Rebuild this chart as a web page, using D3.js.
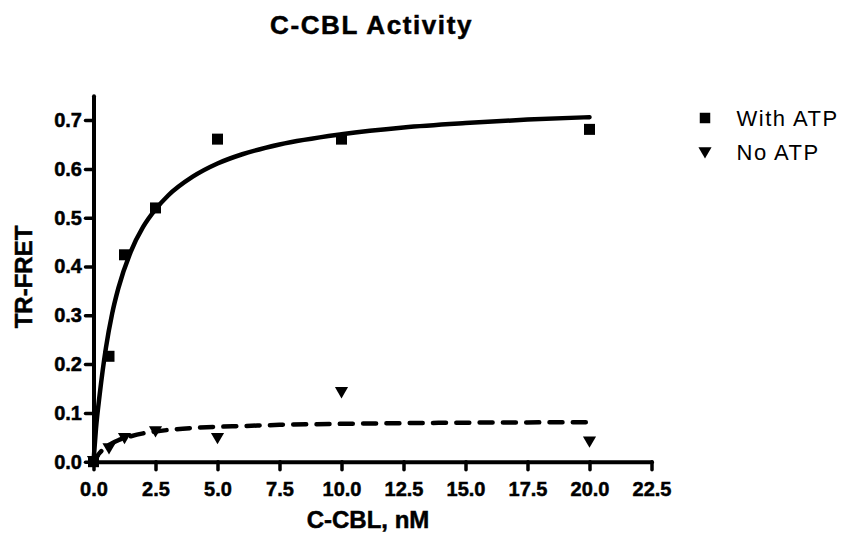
<!DOCTYPE html>
<html>
<head>
<meta charset="utf-8">
<script src="https://cdn.jsdelivr.net/npm/d3@7"></script>
<style>
  html, body { margin: 0; padding: 0; background: #fff; }
  svg { display: block; }
  text { font-family: "Liberation Sans", Arial, sans-serif; fill: #000; }
</style>
</head>
<body>
<svg id="chart" width="844" height="536"></svg>
<script>
// ---- data ----
const concentrations = [0, 0.625, 1.25, 2.5, 5, 10, 20];
const withATP = [0, 0.216, 0.424, 0.52, 0.661, 0.661, 0.681];
const noATP   = [0, 0.026, 0.047, 0.061, 0.047, 0.141, 0.040];

// fitted curves
const curveX        = [0, 0.1, 0.25, 0.5, 0.75, 1, 1.5, 2, 2.5, 3, 4, 5, 6, 7.5, 10, 12.5, 15, 17.5, 20];
const withATPCurve  = [0, 0.068, 0.138, 0.233, 0.303, 0.355, 0.430, 0.481, 0.517, 0.545, 0.584, 0.611, 0.630, 0.650, 0.671, 0.685, 0.694, 0.701, 0.706];
const noATPCurve    = [0, 0.008, 0.018, 0.030, 0.038, 0.044, 0.052, 0.058, 0.062, 0.065, 0.069, 0.0715, 0.073, 0.0755, 0.0776, 0.079, 0.080, 0.0805, 0.081];

const xTicks = [0, 2.5, 5, 7.5, 10, 12.5, 15, 17.5, 20, 22.5];
const yTicks = [0, 0.1, 0.2, 0.3, 0.4, 0.5, 0.6, 0.7];
const seriesNames = ["With ATP", "No ATP"];
const titleText = "C-CBL Activity";
const xTitle = "C-CBL, nM";
const yTitle = "TR-FRET";

// ---- layout ----
const svg = d3.select("#chart");
const x = d3.scaleLinear().domain([0, 22.5]).range([93.5, 651.5]);
const y = d3.scaleLinear().domain([0, 0.75]).range([461.7, 95.7]);

function heavy(sel) {
  return sel.style("font-weight", "bold").attr("stroke", "#000").attr("stroke-width", 0.5);
}

// title
heavy(svg.append("text")
  .attr("x", 371.5).attr("y", 34)
  .attr("text-anchor", "middle")
  .style("font-size", "26px")
  .style("letter-spacing", "1.6px")
  .text(titleText));

// axes
const xAxis = d3.axisBottom(x).tickValues(xTicks).tickFormat(d3.format(".1f"))
  .tickSize(8).tickSizeOuter(0).tickPadding(12);
const yAxis = d3.axisLeft(y).tickValues(yTicks).tickFormat(d3.format(".1f"))
  .tickSize(8).tickSizeOuter(0).tickPadding(3.5);

const gx = svg.append("g").attr("transform", `translate(0,${y(0)})`).call(xAxis);
const gy = svg.append("g").attr("transform", `translate(${x(0)},0)`).call(yAxis);

[gx, gy].forEach(g => {
  g.select(".domain").attr("stroke", "#000").attr("stroke-width", 4).attr("stroke-linecap", "round");
  g.selectAll(".tick line").attr("stroke", "#000").attr("stroke-width", 3.5).attr("stroke-linecap", "round");
  const t = g.selectAll(".tick text")
    .style("font-family", '"Liberation Sans", Arial, sans-serif')
    .style("font-size", "20px").attr("fill", "#000");
  heavy(t);
});

// axis titles
heavy(svg.append("text")
  .attr("x", 368).attr("y", 528)
  .attr("text-anchor", "middle")
  .style("font-size", "24px")
  .text(xTitle));

heavy(svg.append("text")
  .attr("transform", "translate(31.5,277) rotate(-90)")
  .attr("text-anchor", "middle")
  .style("font-size", "24px")
  .text(yTitle));

// curves
const lineGen = d3.line().x(d => x(d[0])).y(d => y(d[1])).curve(d3.curveMonotoneX);
svg.append("path")
  .datum(curveX.map((v, i) => [v, withATPCurve[i]]))
  .attr("d", lineGen)
  .attr("fill", "none").attr("stroke", "#000").attr("stroke-width", 4.5)
  .attr("stroke-linecap", "round");

svg.append("path")
  .datum(curveX.map((v, i) => [v, noATPCurve[i]]))
  .attr("d", lineGen)
  .attr("fill", "none").attr("stroke", "#000").attr("stroke-width", 4.5)
  .attr("stroke-dasharray", "13 10.3").attr("stroke-linecap", "round");

// markers
const sq = d3.symbol().type(d3.symbolSquare).size(121);
const tri = d3.symbol().type(d3.symbolTriangle).size(75);

svg.append("g").selectAll("path")
  .data(concentrations.map((c, i) => [c, withATP[i]]))
  .join("path")
  .attr("d", sq)
  .attr("transform", d => `translate(${x(d[0])},${y(d[1])})`)
  .attr("fill", "#000");

svg.append("g").selectAll("path")
  .data(concentrations.map((c, i) => [c, noATP[i]]))
  .join("path")
  .attr("d", tri)
  .attr("transform", d => `translate(${x(d[0])},${y(d[1]) - 2}) rotate(180)`)
  .attr("fill", "#000");

// legend
const legend = svg.append("g");
const legendY = [118, 152];
legend.append("path").attr("d", d3.symbol().type(d3.symbolSquare).size(110))
  .attr("transform", `translate(705,${legendY[0]})`).attr("fill", "#000");
legend.append("path").attr("d", tri)
  .attr("transform", `translate(705,${legendY[1] - 1}) rotate(180)`).attr("fill", "#000");
seriesNames.forEach((n, i) => {
  legend.append("text")
    .attr("x", 736.5).attr("y", legendY[i] + 7.5)
    .style("font-size", "22px").style("letter-spacing", "1.5px")
    .text(n);
});
</script>
</body>
</html>
